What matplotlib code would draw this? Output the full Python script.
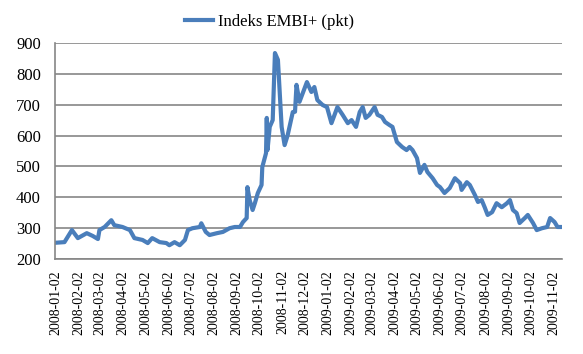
import pandas as pd
import matplotlib
matplotlib.use("Agg")
import matplotlib.pyplot as plt
import matplotlib.dates as mdates

dates = [
    "2008-01-02", "2008-01-14", "2008-01-24", "2008-02-01", "2008-02-13", "2008-02-21",
    "2008-02-28", "2008-03-01", "2008-03-08", "2008-03-17", "2008-03-21", "2008-04-01",
    "2008-04-11", "2008-04-17", "2008-04-28", "2008-05-05", "2008-05-11", "2008-05-21",
    "2008-05-30", "2008-06-03", "2008-06-10", "2008-06-17", "2008-06-24", "2008-06-28",
    "2008-07-04", "2008-07-14", "2008-07-16", "2008-07-22", "2008-07-27", "2008-08-06",
    "2008-08-14", "2008-08-23", "2008-08-30", "2008-09-06", "2008-09-10", "2008-09-15",
    "2008-09-16", "2008-09-19", "2008-09-23", "2008-09-26", "2008-09-30", "2008-10-05",
    "2008-10-06", "2008-10-11", "2008-10-12", "2008-10-13", "2008-10-16", "2008-10-20",
    "2008-10-23", "2008-10-27", "2008-11-01", "2008-11-05", "2008-11-09", "2008-11-16",
    "2008-11-19", "2008-11-21", "2008-11-25", "2008-12-05", "2008-12-11", "2008-12-15",
    "2008-12-19", "2008-12-26", "2009-01-01", "2009-01-07", "2009-01-15", "2009-01-22",
    "2009-01-29", "2009-02-03", "2009-02-09", "2009-02-14", "2009-02-18", "2009-02-22",
    "2009-02-27", "2009-03-06", "2009-03-10", "2009-03-16", "2009-03-20", "2009-03-26",
    "2009-03-30", "2009-04-05", "2009-04-12", "2009-04-18", "2009-04-22", "2009-04-26",
    "2009-05-02", "2009-05-06", "2009-05-12", "2009-05-16", "2009-05-23", "2009-05-29",
    "2009-06-02", "2009-06-08", "2009-06-15", "2009-06-22", "2009-06-29", "2009-07-01",
    "2009-07-08", "2009-07-12", "2009-07-19", "2009-07-23", "2009-07-28", "2009-08-01",
    "2009-08-05", "2009-08-11", "2009-08-17", "2009-08-24", "2009-08-31", "2009-09-04",
    "2009-09-08", "2009-09-13", "2009-09-17", "2009-09-24", "2009-09-28", "2009-10-05",
    "2009-10-10", "2009-10-17", "2009-10-24", "2009-10-28", "2009-11-03", "2009-11-07",
    "2009-11-13",
]
embi = [
    253, 255, 294, 268, 284, 275,
    265, 294, 304, 326, 310, 304,
    294, 268, 262, 252, 268, 255,
    252, 245, 255, 245, 262, 294,
    300, 304, 316, 288, 278, 284,
    288, 300, 304, 304, 320, 333,
    433, 391, 359, 381, 414, 440,
    498, 543, 657, 553, 628, 650,
    867, 845, 628, 569, 600, 676,
    677, 764, 709, 773, 741, 757,
    715, 699, 692, 640, 692, 667,
    640, 650, 628, 676, 692, 657,
    667, 692, 667, 660, 644, 634,
    628, 579, 563, 553, 563, 553,
    527, 479, 505, 482, 462, 440,
    433, 414, 430, 462, 446, 424,
    449, 440, 407, 385, 391, 368,
    343, 352, 381, 368, 381, 391,
    359, 349, 317, 333, 343, 317,
    294, 300, 304, 333, 320, 304,
    304,
]
tick_dates = pd.date_range("2008-01-01", "2009-11-01", freq="MS") + pd.Timedelta(days=1)
y_ticks = [200, 300, 400, 500, 600, 700, 800, 900]

x = pd.to_datetime(dates)

plt.rcParams['font.family'] = ['Liberation Serif', 'DejaVu Serif']

fig = plt.figure(figsize=(5.83, 3.54), dpi=100)
ax = fig.add_axes([0.094, 0.268, 0.87, 0.611])

ax.plot(x, embi, color='#4a7ebb', linewidth=3.0, label='Indeks EMBI+ (pkt)',
        solid_joinstyle='round')

ax.set_ylim(200, 900)
ax.set_yticks(y_ticks)
ax.set_xlim(pd.Timestamp("2008-01-02") - pd.Timedelta(days=1), pd.Timestamp("2009-11-13"))
ax.set_xticks(tick_dates)
ax.xaxis.set_major_formatter(mdates.DateFormatter('%Y-%m-%d'))
plt.setp(ax.get_xticklabels(), rotation=90, fontsize=10)
plt.setp(ax.get_yticklabels(), fontsize=12)
ax.tick_params(length=0)
ax.tick_params(axis='y', pad=10)
ax.tick_params(axis='x', pad=8)

ax.grid(axis='y', color='#868686', linewidth=1.2)
ax.set_axisbelow(True)
for s in ['top', 'right']:
    ax.spines[s].set_visible(False)
for s in ['left', 'bottom']:
    ax.spines[s].set_color('#868686')
    ax.spines[s].set_linewidth(1.2)

fig.legend(*ax.get_legend_handles_labels(), loc='center left',
           bbox_to_anchor=(170 / 583, 1 - 22 / 354), frameon=False,
           fontsize=12, handlelength=1.7, handletextpad=0.3)

fig.savefig('out.png', dpi=100)
